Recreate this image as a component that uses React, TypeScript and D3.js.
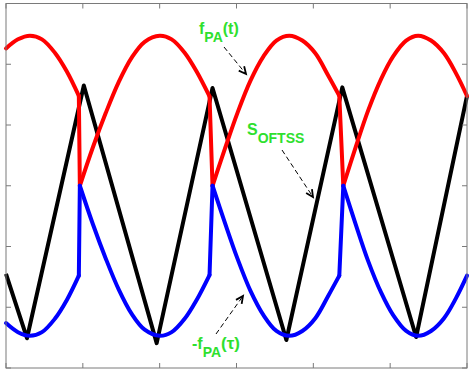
import React, { useEffect, useRef } from 'react';
import * as d3 from 'd3';

// time samples of each f_PA arc (between the switching instants)
const arcT = [
  [0, 0.156, 0.312, 0.468, 0.636, 0.792, 0.948],
  [0.961, 1.13, 1.299, 1.468, 1.636, 1.805, 2.0, 2.156, 2.325, 2.481, 2.649],
  [2.688, 2.844, 3.013, 3.182, 3.351, 3.519, 3.688, 3.857, 4.026, 4.195, 4.338],
  [4.39, 4.545, 4.714, 4.883, 5.039, 5.208, 5.364, 5.532, 5.701, 5.857, 6.0],
];
const fpa = [
  [2.26, 2.41, 2.47, 2.41, 2.19, 1.88, 1.48],
  [0, 0.63, 1.2, 1.71, 2.11, 2.37, 2.47, 2.41, 2.19, 1.88, 1.47],
  [0, 0.59, 1.2, 1.73, 2.13, 2.39, 2.47, 2.39, 2.18, 1.81, 1.48],
  [0, 0.61, 1.24, 1.76, 2.13, 2.39, 2.47, 2.39, 2.18, 1.85, 1.48],
];
const negFpa = [
  [-2.26, -2.41, -2.47, -2.41, -2.19, -1.88, -1.48],
  [0, -0.63, -1.2, -1.71, -2.11, -2.37, -2.47, -2.41, -2.19, -1.88, -1.47],
  [0, -0.59, -1.2, -1.73, -2.13, -2.39, -2.47, -2.39, -2.18, -1.81, -1.48],
  [0, -0.61, -1.24, -1.76, -2.13, -2.39, -2.47, -2.39, -2.18, -1.85, -1.48],
];
const softssT = [0, 0.273, 1.013, 1.961, 2.688, 3.649, 4.377, 5.338, 6.0];
const softss = [-1.45, -2.51, 1.65, -2.59, 1.61, -2.54, 1.62, -2.49, 1.48];

const xTicks = [0, 1, 2, 3, 4, 5, 6];
const yTicks = [-3, -2, -1, 0, 1, 2, 3];

const totalWidth = 474;
const totalHeight = 371;
const margin = { top: 3.5, right: 7, bottom: 3, left: 6 };
const width = totalWidth - margin.left - margin.right;
const height = totalHeight - margin.top - margin.bottom;

const green = '#2ee02e';

const App = () => {
  const svgRef = useRef<SVGSVGElement>(null);

  useEffect(() => {
    d3.select(svgRef.current).selectAll('g').remove();
    const svg = d3.select(svgRef.current)
      .append('g')
      .attr('transform', `translate(${margin.left},${margin.top})`);

    const x = d3.scaleLinear().domain([0, 6]).range([0, width]);
    const y = d3.scaleLinear().domain([-3, 3]).range([height, 0]);

    const smooth = d3.line<[number, number]>()
      .x(d => x(d[0]))
      .y(d => y(d[1]))
      .curve(d3.curveCatmullRom.alpha(0.5));
    const straight = d3.line<[number, number]>()
      .x(d => x(d[0]))
      .y(d => y(d[1]));

    const drawArcs = (vals: number[][], color: string) => {
      const g = svg.append('g')
        .attr('fill', 'none')
        .attr('stroke', color)
        .attr('stroke-width', 4)
        .attr('stroke-linejoin', 'round')
        .attr('stroke-linecap', 'round');
      vals.forEach((arc, i) => {
        const pts: [number, number][] = arc.map((v, j) => [arcT[i][j], v]);
        g.append('path').attr('d', smooth(pts));
        if (i < vals.length - 1) {
          const a: [number, number] = [arcT[i][arc.length - 1], arc[arc.length - 1]];
          const b: [number, number] = [arcT[i + 1][0], vals[i + 1][0]];
          g.append('path').attr('d', straight([a, b]));
        }
      });
    };

    // S_OFTSS
    svg.append('path')
      .attr('d', straight(softssT.map((t, i) => [t, softss[i]] as [number, number])))
      .attr('fill', 'none')
      .attr('stroke', '#000')
      .attr('stroke-width', 4)
      .attr('stroke-linejoin', 'round');

    drawArcs(fpa, '#ff0000');
    drawArcs(negFpa, '#0000ff');

    // frame and inward ticks
    const axisColor = '#7a7a7a';
    svg.append('rect')
      .attr('width', width).attr('height', height)
      .attr('fill', 'none').attr('stroke', axisColor).attr('stroke-width', 1);
    const tk = svg.append('g').attr('stroke', axisColor).attr('stroke-width', 1);
    xTicks.forEach(t => {
      tk.append('line').attr('x1', x(t)).attr('x2', x(t)).attr('y1', height).attr('y2', height - 5);
      tk.append('line').attr('x1', x(t)).attr('x2', x(t)).attr('y1', 0).attr('y2', 5);
    });
    yTicks.forEach(t => {
      tk.append('line').attr('y1', y(t)).attr('y2', y(t)).attr('x1', 0).attr('x2', 5);
      tk.append('line').attr('y1', y(t)).attr('y2', y(t)).attr('x1', width).attr('x2', width - 5);
    });

    // annotations
    const label = (px: number, py: number, main: string, sub: string, tail: string, tailSize = 16) => {
      const t = d3.select(svgRef.current).append('g').append('text')
        .attr('x', px).attr('y', py)
        .attr('fill', green)
        .attr('font-family', '"Liberation Sans", Arial, sans-serif')
        .attr('font-weight', 'bold')
        .attr('font-size', 16);
      t.append('tspan').text(main);
      t.append('tspan').attr('font-size', 14).attr('dy', 8).text(sub);
      if (tail) t.append('tspan').attr('dy', -8).attr('font-size', tailSize).text(tail);
    };
    label(199, 34, 'f', 'PA', '(t)');
    label(247, 135, 'S', 'OFTSS', '');
    label(192, 349, '-f', 'PA', '(\u03C4)', 17);

    const arrow = (x1: number, y1: number, x2: number, y2: number) => {
      const g = d3.select(svgRef.current).append('g')
        .attr('stroke', '#000').attr('fill', 'none');
      g.append('line')
        .attr('x1', x1).attr('y1', y1).attr('x2', x2).attr('y2', y2)
        .attr('stroke-width', 1).attr('stroke-dasharray', '5,3');
      const ang = Math.atan2(y2 - y1, x2 - x1);
      const L = 8;
      const p1 = [x2 - L * Math.cos(ang - 0.45), y2 - L * Math.sin(ang - 0.45)];
      const p2 = [x2 - L * Math.cos(ang + 0.45), y2 - L * Math.sin(ang + 0.45)];
      g.append('path')
        .attr('d', `M${p1[0]},${p1[1]}L${x2},${y2}L${p2[0]},${p2[1]}`)
        .attr('stroke-width', 1.8);
    };
    arrow(224, 47, 246, 74);
    arrow(282, 150, 313, 197);
    arrow(216, 334, 243, 296);
  }, []);

  return (
    <svg ref={svgRef} width={totalWidth} height={totalHeight}
      style={{ position: 'absolute', left: 0, top: 0, background: '#fff' }} />
  );
};

export default App;
